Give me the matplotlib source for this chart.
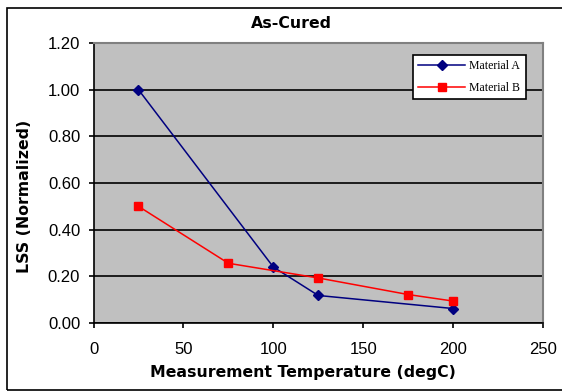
import matplotlib.pyplot as plt
from matplotlib.patches import Rectangle

plt.rcParams['font.family'] = ['Liberation Sans', 'DejaVu Sans']

temp_a = [25, 100, 125, 200]
lss_a = [1.00, 0.24, 0.118, 0.062]
temp_b = [25, 75, 125, 175, 200]
lss_b = [0.50, 0.256, 0.193, 0.122, 0.094]

W, H = 562, 392
fig = plt.figure(figsize=(W / 100, H / 100), dpi=100)
ax = fig.add_axes([93.5 / W, 1 - 323 / H, 449.5 / W, 280 / H])

# outer chart border
fig.patches.append(Rectangle((7 / W, 2 / H), 560 / W, 382 / H,
                             transform=fig.transFigure, fill=False,
                             edgecolor='black', linewidth=1.2))

ax.set_facecolor('#c0c0c0')
ax.plot(temp_a, lss_a, color='#000080', marker='D', markersize=5.2,
        linewidth=1.1, label='Material A', zorder=3)
ax.plot(temp_b, lss_b, color='#ff0000', marker='s', markersize=6.2,
        linewidth=1.1, label='Material B', zorder=3)

ax.set_xlim(0, 250)
ax.set_ylim(0, 1.2)
ax.set_xticks(range(0, 251, 50))
ax.set_yticks([i * 0.2 for i in range(7)])
ax.set_yticklabels([f"{i * 0.2:.2f}" for i in range(7)])
ax.yaxis.grid(True, color='black', linewidth=1.2)
ax.set_axisbelow(True)

for s in ['top', 'right']:
    ax.spines[s].set_color('#808080')
    ax.spines[s].set_linewidth(1.5)
for s in ['left', 'bottom']:
    ax.spines[s].set_color('black')
    ax.spines[s].set_linewidth(1.2)
ax.tick_params(direction='out', length=3.6, width=1.2, labelsize=12, pad=6)
ax.tick_params(axis='x', pad=10)

bold = {'family': 'DejaVu Sans', 'weight': 'bold', 'size': 11.3}
fig.text(291 / W, 1 - 24 / H, 'As-Cured', ha='center', va='center',
         fontdict=bold)
fig.text(303 / W, 1 - 372.5 / H, 'Measurement Temperature (degC)',
         ha='center', va='center', fontdict=bold)
fig.text(25 / W, 1 - 196.5 / H, 'LSS (Normalized)', ha='center',
         va='center', rotation=90, fontdict=bold)

leg = ax.legend(loc='upper right', bbox_to_anchor=(0.9615, 0.957),
                borderaxespad=0,
                prop={'family': 'Liberation Serif', 'size': 8.5},
                frameon=True, fancybox=False, edgecolor='black',
                framealpha=1, handlelength=4.0, borderpad=0.45,
                labelspacing=0.8, handletextpad=0.35)
leg.get_frame().set_linewidth(1.2)

fig.savefig('out.png', dpi=100)
